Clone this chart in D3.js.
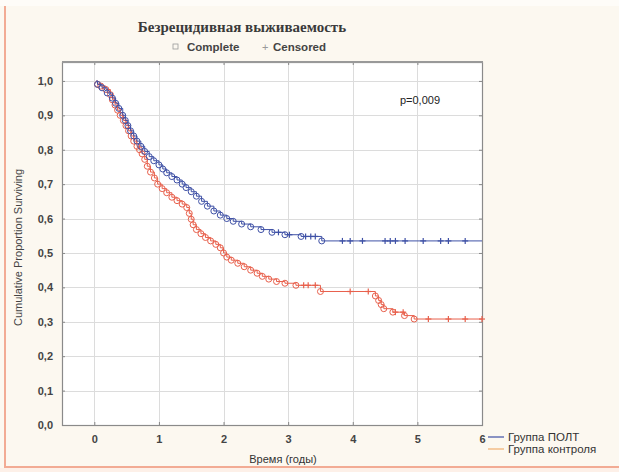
<!DOCTYPE html>
<html>
<head>
<meta charset="utf-8">
<script src="https://cdn.jsdelivr.net/npm/d3@7"></script>
<style>
  html, body { margin: 0; padding: 0; background: #fcf8f0; }
  svg { display: block; font-family: Arial, "Liberation Sans", sans-serif; }
</style>
</head>
<body>
<svg id="chart" width="619" height="472"></svg>
<script>
// ── Data ──
const xTicks = [0, 1, 2, 3, 4, 5, 6];
const yTicks = [0, 0.1, 0.2, 0.3, 0.4, 0.5, 0.6, 0.7, 0.8, 0.9, 1.0];

// Группа ПОЛТ: complete events (time, survival after event)
const poltTimes = [0.05, 0.12, 0.20, 0.28, 0.33, 0.38, 0.44, 0.48, 0.52, 0.56, 0.61, 0.66, 0.72, 0.78,
  0.85, 0.92, 1.00, 1.06, 1.12, 1.20, 1.28, 1.36, 1.42, 1.50, 1.58, 1.66, 1.75, 1.85, 1.95,
  2.05, 2.15, 2.28, 2.42, 2.58, 2.75, 2.95, 3.20, 3.52];
const poltSurv = [0.99, 0.98, 0.965, 0.95, 0.935, 0.92, 0.90, 0.885, 0.87, 0.855, 0.84, 0.825, 0.81, 0.795,
  0.78, 0.768, 0.756, 0.744, 0.733, 0.722, 0.712, 0.70, 0.69, 0.678, 0.665, 0.65, 0.636, 0.622, 0.61,
  0.60, 0.592, 0.584, 0.576, 0.568, 0.56, 0.553, 0.548, 0.535];
const poltCensored = [2.85, 3.02, 3.27, 3.35, 3.42, 3.84, 3.96, 4.15, 4.50, 4.58, 4.66, 4.81,
  5.09, 5.36, 5.48, 5.74];

// Группа контроля
const controlTimes = [0.05, 0.10, 0.18, 0.25, 0.28, 0.32, 0.36, 0.40, 0.45, 0.49, 0.53, 0.57, 0.61, 0.66,
  0.70, 0.74, 0.78, 0.82, 0.87, 0.93, 0.98, 1.05, 1.12, 1.20, 1.28, 1.36, 1.43, 1.47, 1.50, 1.53,
  1.58, 1.65, 1.72, 1.80, 1.88, 1.95, 2.00, 2.05, 2.12, 2.22, 2.32, 2.42, 2.52, 2.60, 2.70, 2.82,
  2.95, 3.12, 3.50, 4.35, 4.40, 4.44, 4.48, 4.62, 4.80, 4.95];
const controlSurv = [0.99, 0.985, 0.975, 0.96, 0.945, 0.93, 0.915, 0.90, 0.885, 0.87, 0.855, 0.84, 0.825, 0.81,
  0.80, 0.788, 0.772, 0.752, 0.735, 0.718, 0.70, 0.687, 0.675, 0.662, 0.652, 0.642, 0.632, 0.615, 0.598, 0.582,
  0.568, 0.556, 0.545, 0.535, 0.525, 0.515, 0.50, 0.488, 0.479, 0.47, 0.46, 0.45, 0.441, 0.432, 0.424, 0.417,
  0.412, 0.406, 0.388, 0.375, 0.362, 0.35, 0.338, 0.328, 0.318, 0.308];
const controlCensored = [3.24, 3.31, 3.42, 3.96, 4.24, 4.66, 4.78, 5.17, 5.48, 5.74, 6.0];

const seriesNames = ["Группа ПОЛТ", "Группа контроля"];
const pValue = "p=0,009";

// ── Layout ──
const svg = d3.select("#chart");
const plot = { left: 62, right: 482, top: 62, bottom: 425 };
const colors = { polt: "#3f51a6", control: "#e8604c", controlLegend: "#f0b070" };

const x = d3.scaleLinear().domain([-0.5, 6]).range([plot.left, plot.right]);
const y = d3.scaleLinear().domain([0, 1.055]).range([plot.bottom, plot.top]);
const fmt = d => d3.format(".1f")(d).replace(".", ",");

// page frame
svg.append("rect").attr("x", 0).attr("y", 0).attr("width", 619).attr("height", 6).attr("fill", "#fefcf8");
svg.append("line").attr("x1", 5).attr("x2", 5).attr("y1", 6).attr("y2", 467)
  .attr("stroke", "#f2ab94").attr("stroke-width", 2);
svg.append("line").attr("x1", 4).attr("x2", 619).attr("y1", 467).attr("y2", 467)
  .attr("stroke", "#f2ab94").attr("stroke-width", 2);
svg.append("rect").attr("x", 0).attr("y", 468).attr("width", 619).attr("height", 4).attr("fill", "#fdf0e8");

// plot background
svg.append("rect")
  .attr("x", plot.left).attr("y", plot.top)
  .attr("width", plot.right - plot.left).attr("height", plot.bottom - plot.top)
  .attr("fill", "#fff");

// grid
const grid = svg.append("g").attr("stroke", "#dcdcdc").attr("stroke-width", 1);
grid.selectAll(".gx").data(xTicks).join("line")
  .attr("x1", d => Math.round(x(d)) + 0.5).attr("x2", d => Math.round(x(d)) + 0.5)
  .attr("y1", plot.top).attr("y2", plot.bottom);
grid.selectAll(".gy").data(yTicks).join("line")
  .attr("x1", plot.left).attr("x2", plot.right)
  .attr("y1", d => Math.round(y(d)) + 0.5).attr("y2", d => Math.round(y(d)) + 0.5);

// axes
const yAxis = svg.append("g").attr("transform", `translate(${plot.left},0)`)
  .call(d3.axisLeft(y).tickValues(yTicks).tickFormat(fmt).tickSizeInner(-3).tickSizeOuter(0).tickPadding(9));
const yAxisR = svg.append("g").attr("transform", `translate(${plot.right},0)`)
  .call(d3.axisRight(y).tickValues(yTicks).tickFormat("").tickSizeInner(-3).tickSizeOuter(0));
const xAxis = svg.append("g").attr("transform", `translate(0,${plot.bottom})`)
  .call(d3.axisBottom(x).tickValues(xTicks).tickFormat(d3.format("d")).tickSizeInner(-3).tickSizeOuter(0).tickPadding(10));
const xAxisT = svg.append("g").attr("transform", `translate(0,${plot.top})`)
  .call(d3.axisTop(x).tickValues(xTicks).tickFormat("").tickSizeInner(-3).tickSizeOuter(0));
[yAxis, yAxisR, xAxis, xAxisT].forEach(g => {
  g.select(".domain").remove();
  g.selectAll(".tick line").attr("stroke", "#888");
  g.selectAll("text").attr("font-size", 11).attr("font-weight", "bold").attr("fill", "#444")
    .attr("font-family", "Arial, 'Liberation Sans', sans-serif");
});

// frame
svg.append("rect")
  .attr("x", plot.left + 0.5).attr("y", plot.top + 0.5)
  .attr("width", plot.right - plot.left).attr("height", plot.bottom - plot.top)
  .attr("fill", "none").attr("stroke", "#8a8a8a").attr("stroke-width", 1.2);
svg.append("line").attr("x1", plot.left).attr("x2", plot.right + 1)
  .attr("y1", plot.top).attr("y2", plot.top).attr("stroke", "#999").attr("stroke-width", 2);

// ── Survival curves ──
function stepPoints(times, surv) {
  const pts = [[0.03, 1]];
  times.forEach((t, i) => pts.push([t, surv[i]]));
  pts.push([6, surv[surv.length - 1]]);
  return pts;
}
function survAt(times, surv, t) {
  let s = 1;
  times.forEach((tt, i) => { if (tt <= t) s = surv[i]; });
  return s;
}
const line = d3.line().x(d => x(d[0])).y(d => y(d[1])).curve(d3.curveStepAfter);

const series = [
  { times: controlTimes, surv: controlSurv, cens: controlCensored, color: colors.control },
  { times: poltTimes, surv: poltSurv, cens: poltCensored, color: colors.polt }
];

series.forEach(s => {
  const g = svg.append("g");
  g.append("path")
    .attr("d", line(stepPoints(s.times, s.surv)))
    .attr("fill", "none").attr("stroke", s.color).attr("stroke-width", 1);
  g.selectAll("circle").data(s.times.map((t, i) => [t, s.surv[i]])).join("circle")
    .attr("cx", d => x(d[0])).attr("cy", d => y(d[1])).attr("r", 3)
    .attr("fill", "none").attr("stroke", s.color).attr("stroke-width", 1);
  const c = g.selectAll(".cens").data(s.cens).join("g")
    .attr("transform", d => `translate(${x(d)},${y(survAt(s.times, s.surv, d))})`);
  c.append("line").attr("x1", -3).attr("x2", 3).attr("y1", 0).attr("y2", 0).attr("stroke", s.color).attr("stroke-width", 1.2);
  c.append("line").attr("x1", 0).attr("x2", 0).attr("y1", -3).attr("y2", 3).attr("stroke", s.color).attr("stroke-width", 1.2);
});

// ── Texts ──
svg.append("text").attr("x", 242).attr("y", 32).attr("text-anchor", "middle")
  .style("font-family", "'Liberation Serif', 'DejaVu Serif', serif")
  .attr("font-size", 15).attr("font-weight", "bold").attr("fill", "#3a3a3a")
  .text("Безрецидивная выживаемость");

const lg = svg.append("g").attr("transform", "translate(0,51)");
lg.append("rect").attr("x", 173).attr("y", -7).attr("width", 5).attr("height", 5)
  .attr("fill", "none").attr("stroke", "#999").attr("stroke-width", 0.8);
lg.append("text").attr("x", 187).attr("y", 0).attr("font-size", 11.5).attr("font-weight", "bold").attr("fill", "#444").text("Complete");
lg.append("text").attr("x", 262).attr("y", 0).attr("font-size", 11).attr("fill", "#999").text("+");
lg.append("text").attr("x", 273).attr("y", 0).attr("font-size", 11.5).attr("font-weight", "bold").attr("fill", "#444").text("Censored");

svg.append("text").attr("x", 420).attr("y", 104).attr("text-anchor", "middle")
  .attr("font-size", 11).attr("fill", "#222").text(pValue);

svg.append("text").attr("transform", `translate(22,${(plot.top + plot.bottom) / 2 + 4}) rotate(-90)`)
  .attr("text-anchor", "middle").attr("font-size", 11).attr("fill", "#444")
  .text("Cumulative Proportion Surviving");

svg.append("text").attr("x", 283).attr("y", 463).attr("text-anchor", "middle")
  .attr("font-size", 11).attr("fill", "#333").text("Время (годы)");

const legColors = [colors.polt, colors.controlLegend];
const rl = svg.append("g");
rl.selectAll("line").data(seriesNames).join("line")
  .attr("x1", 488).attr("x2", 504)
  .attr("y1", (d, i) => 437 + i * 12).attr("y2", (d, i) => 437 + i * 12)
  .attr("stroke", (d, i) => legColors[i]).attr("stroke-width", 1.2);
rl.selectAll("text").data(seriesNames).join("text")
  .attr("x", 508).attr("y", (d, i) => 441 + i * 12)
  .attr("font-size", 11.5).attr("fill", "#333").text(d => d);
</script>
</body>
</html>
